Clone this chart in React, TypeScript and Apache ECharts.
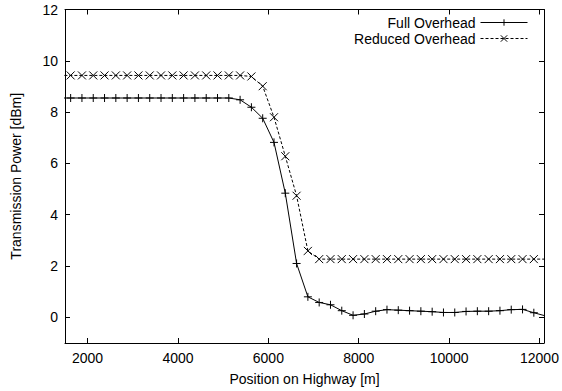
import React, { useEffect, useRef } from "react";
import * as echarts from "echarts";

const positions = [
  1375, 1625, 1875, 2125, 2375, 2625, 2875, 3125, 3375, 3625, 3875, 4125, 4375, 4625, 4875,
  5125, 5375, 5625, 5875, 6125, 6375, 6625, 6875, 7125, 7375, 7625, 7875, 8125, 8375, 8625,
  8875, 9125, 9375, 9625, 9875, 10125, 10375, 10625, 10875, 11125, 11375, 11625, 11875, 12125,
];

const fullOverhead = [
  8.55, 8.55, 8.55, 8.55, 8.55, 8.55, 8.55, 8.55, 8.55, 8.55, 8.55, 8.55, 8.55, 8.55, 8.55,
  8.55, 8.48, 8.19, 7.76, 6.82, 4.84, 2.10, 0.80, 0.58, 0.49, 0.26, 0.08, 0.13, 0.24, 0.30,
  0.28, 0.26, 0.24, 0.22, 0.19, 0.19, 0.23, 0.24, 0.24, 0.26, 0.30, 0.31, 0.18, 0.06,
];

const reducedOverhead = [
  9.43, 9.43, 9.43, 9.43, 9.43, 9.43, 9.43, 9.43, 9.43, 9.43, 9.43, 9.43, 9.43, 9.43, 9.43,
  9.43, 9.43, 9.39, 9.01, 7.80, 6.28, 4.74, 2.59, 2.27, 2.27, 2.27, 2.27, 2.27, 2.27, 2.27,
  2.27, 2.27, 2.27, 2.27, 2.27, 2.27, 2.27, 2.27, 2.27, 2.27, 2.27, 2.27, 2.27, 2.27,
];

const xTicks = [2000, 4000, 6000, 8000, 10000, 12000];
const yTicks = [0, 2, 4, 6, 8, 10, 12];

const X_MIN = 1500;
const X_MAX = 12100;
const Y_MIN = -1;
const Y_MAX = 12;

const FONT = "Liberation Sans, Arial, Helvetica, sans-serif";
const PLUS = "path://M0,5L10,5M5,0L5,10";
const CROSS = "path://M0,0L10,10M10,0L0,10";

export default function App() {
  const ref = useRef<HTMLDivElement>(null);

  useEffect(() => {
    if (!ref.current) return;
    const chart = echarts.init(ref.current, undefined, { renderer: "svg" });
    const axisLine = { show: true, onZero: false, lineStyle: { color: "#000", width: 1 } };
    const tickStyle = { color: "#000", width: 1 };
    const labelStyle = { fontSize: 14, color: "#000", fontFamily: FONT };
    const plain = (v: number) => String(v);

    const legendBase = {
      right: 34,
      padding: 0,
      align: "right",
      orient: "vertical",
      itemWidth: 47,
      itemHeight: 8,
      selectedMode: false,
      textStyle: { ...labelStyle, lineHeight: 16 },
      lineStyle: { width: 1 },
      itemStyle: { borderWidth: 1 },
    };

    chart.setOption({
      animation: false,
      backgroundColor: "#fff",
      textStyle: { fontFamily: FONT },
      grid: { left: 65, right: 18, top: 9.5, bottom: 44, containLabel: false },
      xAxis: [
        {
          type: "value",
          min: X_MIN,
          max: X_MAX,
          position: "bottom",
          axisLine,
          axisTick: { show: true, inside: true, length: 5, customValues: xTicks, lineStyle: tickStyle },
          axisLabel: { ...labelStyle, customValues: xTicks, margin: 8, formatter: plain },
          splitLine: { show: false },
          name: "Position on Highway [m]",
          nameLocation: "middle",
          nameGap: 29,
          nameTextStyle: labelStyle,
        },
        {
          type: "value",
          min: X_MIN,
          max: X_MAX,
          position: "top",
          axisLine,
          axisTick: { show: true, inside: true, length: 5, customValues: xTicks, lineStyle: tickStyle },
          axisLabel: { show: false },
          splitLine: { show: false },
        },
      ],
      yAxis: [
        {
          type: "value",
          min: Y_MIN,
          max: Y_MAX,
          position: "left",
          axisLine,
          axisTick: { show: true, inside: true, length: 5, customValues: yTicks, lineStyle: tickStyle },
          axisLabel: { ...labelStyle, customValues: yTicks, margin: 7, formatter: plain },
          splitLine: { show: false },
          name: "Transmission Power [dBm]",
          nameLocation: "middle",
          nameGap: 42,
          nameRotate: 90,
          nameTextStyle: labelStyle,
        },
        {
          type: "value",
          min: Y_MIN,
          max: Y_MAX,
          position: "right",
          axisLine,
          axisTick: { show: true, inside: true, length: 5, customValues: yTicks, lineStyle: tickStyle },
          axisLabel: { show: false },
          splitLine: { show: false },
        },
      ],
      legend: [
        { ...legendBase, data: ["Full Overhead"], top: 14.5 },
        { ...legendBase, data: ["Reduced Overhead"], top: 30.5 },
      ],
      series: [
        {
          name: "Full Overhead",
          type: "line",
          xAxisIndex: 0,
          yAxisIndex: 0,
          data: positions.map((x, i) => [x, fullOverhead[i]]),
          symbol: PLUS,
          symbolSize: 8,
          showSymbol: true,
          clip: true,
          lineStyle: { color: "#000", width: 1, type: "solid" },
          itemStyle: { color: "#000", borderColor: "#000", borderWidth: 1 },
        },
        {
          name: "Reduced Overhead",
          type: "line",
          xAxisIndex: 0,
          yAxisIndex: 0,
          data: positions.map((x, i) => [x, reducedOverhead[i]]),
          symbol: CROSS,
          symbolSize: 8,
          showSymbol: true,
          clip: true,
          lineStyle: { color: "#000", width: 1, type: [3, 2] },
          itemStyle: { color: "#000", borderColor: "#000", borderWidth: 1 },
        },
      ],
    });

    return () => {
      chart.dispose();
    };
  }, []);

  return (
    <div
      ref={ref}
      style={{ position: "absolute", left: 0, top: 0, width: 562, height: 391, background: "#fff" }}
    />
  );
}
